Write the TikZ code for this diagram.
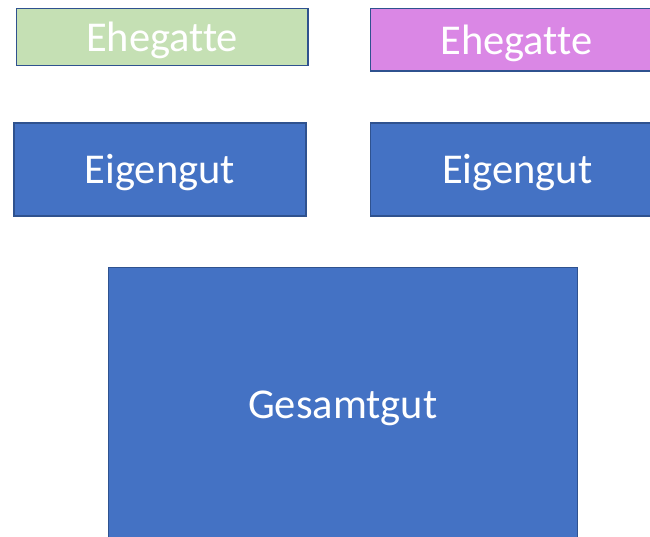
\documentclass[tikz,border=0pt]{standalone}
\usepackage{fontspec}
\setmainfont[Ligatures=NoCommon]{Carlito}
\definecolor{boxblue}{HTML}{4472C4}
\definecolor{edgeblue}{HTML}{2F528F}
\definecolor{boxgreen}{HTML}{C5E0B4}
\definecolor{boxpink}{HTML}{DA87E5}
\tikzset{
  card/.style={draw=edgeblue, line width=1.6pt, rectangle, inner sep=0pt, anchor=north west},
  lbl/.style={text=white, inner sep=0pt, font=\fontsize{42.5}{42.5}\selectfont},
}
\begin{document}
\begin{tikzpicture}[x=1pt,y=-1pt]
\useasboundingbox (0,0) rectangle (650,536);
\clip (0,0) rectangle (650,536);
\fill[white] (0,0) rectangle (650,536);
\node[card, fill=boxgreen, minimum width=291.5pt, minimum height=57pt] (e1) at (15.5,7.5) {};
\node[card, fill=boxpink, minimum width=292pt, minimum height=62.5pt] (e2) at (369.5,7.5) {};
\node[card, fill=boxblue, minimum width=292pt, minimum height=93pt] (g1) at (13,122) {};
\node[card, fill=boxblue, minimum width=294pt, minimum height=93pt] (g2) at (369.5,122) {};
\node[card, fill=boxblue, minimum width=469pt, minimum height=278pt] (gg) at (107.5,266.5) {};
\node[lbl] (t1) at ([yshift=-3.5pt]e1.center) {Ehegatte};
\node[lbl] (t2) at ([yshift=-3.5pt]e2.center) {Ehegatte};
\node[lbl] (t3) at ([yshift=-3.5pt]g1.center) {Eigengut};
\node[lbl] (t4) at ([yshift=-3.5pt]g2.center) {Eigengut};
\node[lbl] (t5) at ([yshift=-2.5pt]gg.center) {Gesamtgut};
\end{tikzpicture}
\end{document}
